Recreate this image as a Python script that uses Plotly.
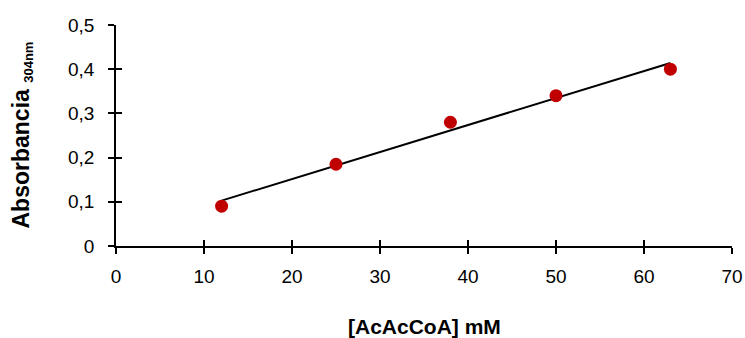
import numpy as np
import plotly.graph_objects as go

conc = [12, 25, 38, 50, 63]
absorb = [0.09, 0.185, 0.28, 0.34, 0.40]
x_ticks = [0, 10, 20, 30, 40, 50, 60, 70]
y_ticks = [0, 0.1, 0.2, 0.3, 0.4, 0.5]
y_ticktext = ["0", "0,1", "0,2", "0,3", "0,4", "0,5"]

slope, intercept = np.polyfit(conc, absorb, 1)
fit_x = [min(conc), max(conc)]
fit_y = [slope * v + intercept for v in fit_x]

font = "Liberation Sans, Arial, sans-serif"

fig = go.Figure()
fig.add_trace(go.Scatter(x=fit_x, y=fit_y, mode="lines",
                         line=dict(color="black", width=2), showlegend=False, hoverinfo="skip"))
fig.add_trace(go.Scatter(x=conc, y=absorb, mode="markers",
                         marker=dict(color="#C00000", size=13), showlegend=False))
fig.add_trace(go.Scatter(x=[None], y=[None], xaxis="x2", yaxis="y2", showlegend=False))

axis_common = dict(showgrid=False, zeroline=False, linecolor="black", linewidth=1.5,
                   ticks="outside", ticklen=6, tickwidth=1.5, tickcolor="black",
                   automargin=False,
                   tickfont=dict(family=font, size=19, color="black"))

fig.update_layout(
    width=745, height=338,
    margin=dict(l=116, r=13, t=25, b=92),
    paper_bgcolor="white", plot_bgcolor="white",
    xaxis=dict(range=[0, 70], tickvals=x_ticks, showline=True, ticklabelstandoff=6,
               **axis_common),
    yaxis=dict(range=[0, 0.5], tickvals=y_ticks, ticktext=y_ticktext, showline=True,
               ticklabelstandoff=10, **axis_common),
    xaxis2=dict(range=[0, 70], tickvals=x_ticks, overlaying="x", matches="x",
                showgrid=False, zeroline=False, showline=False, showticklabels=False,
                ticks="inside", ticklen=6, tickwidth=1.5, tickcolor="black", anchor="y"),
    yaxis2=dict(range=[0, 0.5], tickvals=y_ticks, overlaying="y", matches="y",
                showgrid=False, zeroline=False, showline=False, showticklabels=False,
                ticks="inside", ticklen=6, tickwidth=1.5, tickcolor="black", anchor="x"),
    annotations=[
        dict(text="<b>[AcAcCoA] mM</b>", xref="paper", yref="paper", x=0.5, y=0,
             xanchor="center", yanchor="middle", yshift=-80, showarrow=False,
             font=dict(family=font, size=21, color="black")),
        dict(text="<b>Absorbancia </b><b><sub><span style='font-size:13px'>304nm</span></sub></b>",
             xref="paper", yref="paper", x=0, y=0.5, textangle=-90,
             xanchor="center", yanchor="middle", xshift=-94, showarrow=False,
             font=dict(family=font, size=23, color="black")),
    ],
)

fig.write_html("out.html", config={"displayModeBar": False},
               post_script="document.body.style.margin='0';")
